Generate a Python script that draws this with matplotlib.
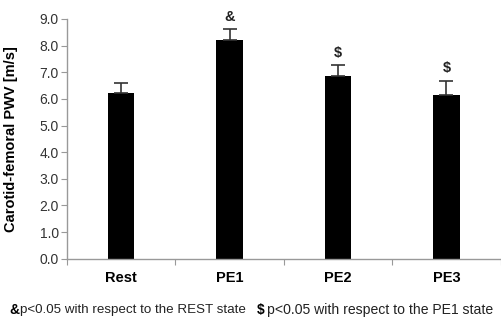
import matplotlib
matplotlib.use("Agg")
import matplotlib.pyplot as plt
import numpy as np

categories = ["Rest", "PE1", "PE2", "PE3"]
means = [6.24, 8.21, 6.87, 6.13]
errors = [0.36, 0.41, 0.39, 0.55]
marks = ["", "&", "$", "$"]
yticks = [0, 1, 2, 3, 4, 5, 6, 7, 8, 9]

plt.rcParams['font.family'] = ['Liberation Sans', 'DejaVu Sans']

fig = plt.figure(figsize=(5.02, 3.2), dpi=100)
ax = fig.add_axes([67/502, 1-258.7/320, (500.7-67)/502, (258.7-19)/320])

x = np.arange(len(categories))
ax.bar(x, means, width=0.245, color='black', zorder=2)
ax.errorbar(x, means, yerr=[np.zeros(len(means)), errors], fmt='none',
            ecolor='#333333', elinewidth=1.2, capsize=5, capthick=1.2, zorder=3)
for xi, m, e, s in zip(x, means, errors, marks):
    if s:
        ax.text(xi, m + e + 0.2, s, ha='center', va='bottom',
                fontsize=10.5, fontweight='bold', color='#222222')

ax.set_xlim(-0.5, len(categories) - 0.5)
ax.set_ylim(0, 9)
ax.set_yticks(yticks)
ax.set_yticklabels([f"{v:.1f}" for v in yticks], fontsize=10, color='#333333')
ax.set_xticks(np.arange(len(categories) + 1) - 0.5, minor=False)
ax.set_xticklabels([])
ax.set_xticks(x, minor=True)
ax.set_xticklabels(categories, minor=True, fontsize=10.5, fontweight='bold')
ax.tick_params(axis='x', which='minor', length=0, pad=9)
ax.tick_params(axis='x', which='major', length=4, direction='out', color='#999999')
ax.tick_params(axis='y', length=4, direction='out', color='#999999', pad=2)

for sp in ['top', 'right']:
    ax.spines[sp].set_visible(False)
for sp in ['left', 'bottom']:
    ax.spines[sp].set_color('#999999')
    ax.spines[sp].set_linewidth(1.0)

ax.set_ylabel("Carotid-femoral PWV [m/s]", fontsize=10.5, fontweight='bold', labelpad=4)
ax.yaxis.set_label_coords(-0.113, 0.5)

fy = 1 - 310/320
fig.text(9/502, fy, "&", fontsize=10, fontweight='bold', va='center', ha='left')
fig.text(20/502, fy, "p<0.05 with respect to the REST state", fontsize=9.6, va='center', ha='left', color='#222222')
fig.text(257/502, fy, "$", fontsize=10, fontweight='bold', va='center', ha='left')
fig.text(267/502, fy, "p<0.05 with respect to the PE1 state", fontsize=10.1, va='center', ha='left', color='#222222')

fig.savefig("out.png", dpi=100)
